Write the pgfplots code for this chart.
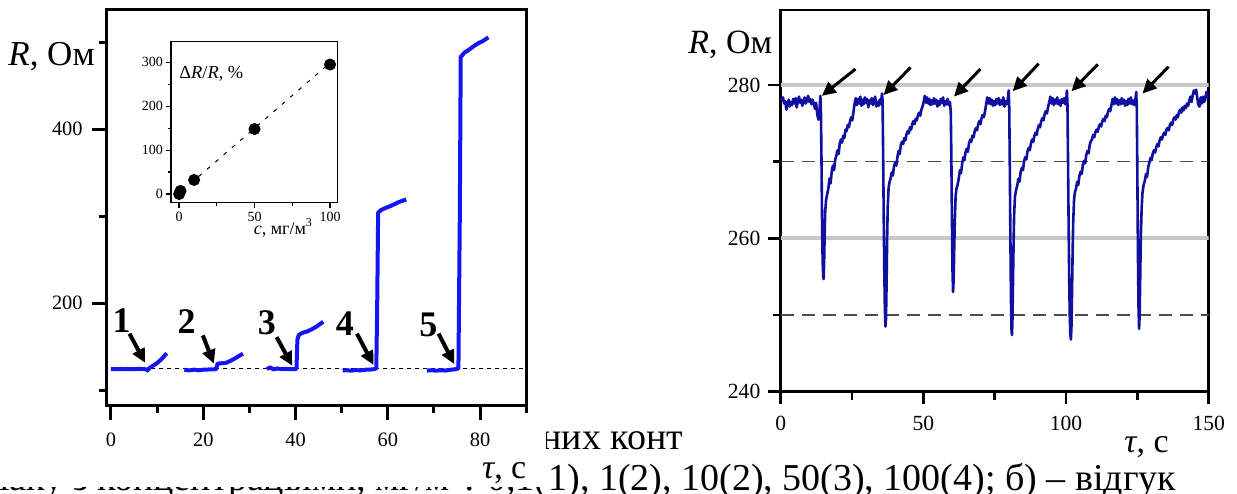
\documentclass[border=0pt]{standalone}
\usepackage{fontspec}
\setmainfont{Liberation Serif}
\usepackage{pgfplots}
\pgfplotsset{compat=1.18}
\usetikzlibrary{arrows.meta}

\definecolor{brightblue}{RGB}{20,20,245}
\definecolor{darkblue}{RGB}{16,16,160}

\pgfplotsset{
  panel/.style={
    scale only axis, anchor=south west,
    tick align=outside, tick pos=left,
    /pgf/number format/assume math mode=true,
    ticklabel style={inner sep=0pt},
    xticklabel style={anchor=center},
    yticklabel style={anchor=east},
  },
}
\tikzset{
  num/.style={font=\fontsize{18}{20}\selectfont\bfseries},
  arr/.style={line width=2pt, -{Triangle[length=7pt,width=6.5pt]}},
  arrb/.style={line width=1.5pt, -{Triangle[length=7pt,width=6.5pt]}},
  captext/.style={inner sep=0pt, font=\fontsize{19}{22}\selectfont},
}

\begin{document}
\begin{tikzpicture}
\path[use as bounding box] (0,0) rectangle (618.5pt,-246.5pt);

% caption text, partly hidden under the left picture
\begin{scope}
\clip (273pt,0pt) rectangle (618.5pt,-246.5pt)
      (0pt,-243.5pt) rectangle (273pt,-246.5pt);
\node[captext, anchor=base west] at (270.5pt,-224.5pt) {них конт};
\node[captext, anchor=base east] at (274pt,-245pt) {аміаку з концентраціями, мг/м\textsuperscript{3}: 0,1(};
\node[captext, anchor=base west] at (274pt,-245pt) {1), 1(2), 10(2), 50(3), 100(4); б) – відгук};
\end{scope}

% ---------------- left panel ----------------
\begin{axis}[panel,
  at={(53.35pt,-202.5pt)}, width=210pt, height=197.5pt,
  xmin=-0.93, xmax=90.1, ymin=83, ymax=537,
  axis line style={line width=1.5pt},
  xtick={0,20,40,60,80}, minor xtick={10,30,50,70,90},
  ytick={200,400}, minor ytick={100,300,500},
  major tick length=7.5pt, minor tick length=3.8pt,
  every tick/.style={black, line width=1.5pt},
  ticklabel style={font=\fontsize{10.2}{12}\selectfont},
  xticklabel shift=10pt, yticklabel shift=4.35pt,
]
\draw[black, line width=0.5pt, dash pattern=on 2pt off 2pt] (axis cs:0,124.5) -- (axis cs:90.1,124.5);
\addplot[brightblue, line width=2pt, line join=round] coordinates {
  (0,124.3) (1,124.1) (2,124.5) (3,124.2) (4,124.4) (5,124.1) (6,124.5) (7,124.3)
  (7.6,124.0) (7.9,122.6) (8.3,125.3) (9,127.8) (10,131.2) (11,136) (12.1,142.5)
};
\addplot[brightblue, line width=2pt, line join=round] coordinates {
  (15.9,123.4) (17,122.8) (18,123.6) (19,122.9) (20,123.6) (21,123.8) (22,124)
  (22.8,124.2) (23.1,130.5) (24,131) (25,131.6) (26,134) (27,137) (28.6,142)
};
\addplot[brightblue, line width=2pt, line join=round] coordinates {
  (33.8,124.4) (34.5,126.2) (35.2,124) (36,125) (37,124.2) (38,124.5) (39,124.1)
  (40.2,124.5) (40.4,158) (40.7,163.5) (41.5,166) (42.5,167.5) (43.5,170)
  (44.5,173) (45.3,176) (46,178.7)
};
\addplot[brightblue, line width=2pt, line join=round] coordinates {
  (50.2,122.6) (51,123.1) (52,122.4) (53,123.2) (54,122.7) (55,123.5) (56,123.6)
  (57,124.2) (57.5,125) (57.7,200) (57.9,304) (58.5,307) (59.5,309.5) (60.5,311.5)
  (61.5,314) (62.5,316.5) (63.3,318) (64,319)
};
\addplot[brightblue, line width=2pt, line join=round] coordinates {
  (68.5,122.6) (69.5,123) (70.5,122.4) (71.5,123) (72.5,122.6) (73.5,123.4)
  (74.5,124) (75.3,125) (75.6,300) (75.8,483) (76.6,488) (77.5,491) (78.5,495)
  (79.5,498.5) (80.5,501) (81.8,505.5)
};
\node[num] at (axis cs:2.3,180) {1};
\node[num] at (axis cs:16.4,179) {2};
\node[num] at (axis cs:33.8,177) {3};
\node[num] at (axis cs:50.7,177) {4};
\node[num] at (axis cs:68.8,175) {5};
\draw[arr] (axis cs:4.0,165) -- (axis cs:7.4,131.5);
\draw[arr] (axis cs:19.9,163) -- (axis cs:22.3,130.5);
\draw[arr] (axis cs:35.9,161) -- (axis cs:39.3,128);
\draw[arr] (axis cs:53.3,165) -- (axis cs:56.9,129);
\draw[arr] (axis cs:71.0,165) -- (axis cs:74.4,130);
\end{axis}
\node[anchor=base west, inner sep=0pt, font=\fontsize{17.5}{20}\selectfont] at (4pt,-32.5pt) {\textit{R}, Ом};
\node[anchor=base west, inner sep=0pt, font=\fontsize{17}{20}\selectfont] at (240.85pt,-239pt) {\textit{τ}, с};

% ---------------- inset ----------------
\begin{axis}[panel,
  at={(85.5pt,-101.35pt)}, width=83.15pt, height=80.5pt,
  xmin=-5.3, xmax=104.8, ymin=-19.8, ymax=347,
  axis line style={line width=0.6pt},
  xtick={0,50,100}, minor xtick={25,75},
  ytick={0,100,200,300}, minor ytick={50,150,250},
  major tick length=2.6pt, minor tick length=1.6pt,
  every tick/.style={black, line width=0.6pt},
  ticklabel style={font=\fontsize{7}{8}\selectfont},
  xticklabel shift=4.4pt, yticklabel shift=1.25pt,
  clip=false,
]
\addplot[black, line width=0.5pt, dash pattern=on 2pt off 3.5pt] coordinates {(2,7) (97,290)};
\addplot[only marks, mark=*, mark size=2.8pt, black] coordinates {
  (0.1,0) (1,7) (10,32) (50,148) (100,295)
};
\node[anchor=west, inner sep=0pt, font=\fontsize{9.2}{11}\selectfont] at (rel axis cs:0.048,0.80) {Δ\textit{R}/\textit{R}, \%};
\node[inner sep=0pt, font=\fontsize{9}{11}\selectfont, yshift=-12.7pt] at (rel axis cs:0.676,0) {\textit{c}, мг/м\textsuperscript{3}};
\end{axis}

% ---------------- right panel ----------------
\begin{axis}[panel,
  at={(390.35pt,-195.85pt)}, width=214pt, height=190.85pt,
  xmin=0, xmax=150, ymin=240, ymax=289.8,
  axis line style={line width=1.3pt},
  xtick={0,50,100,150}, minor xtick={25,75,125},
  ytick={240,260,280}, minor ytick={250,270},
  major tick length=6.3pt, minor tick length=4pt,
  every tick/.style={black, line width=1.3pt},
  ticklabel style={font=\fontsize{10.8}{12}\selectfont},
  xticklabel shift=9.5pt, yticklabel shift=3.7pt,
]
\draw[black!22, line width=2pt] (axis cs:0,260) -- (axis cs:150,260);
\draw[black!22, line width=2pt] (axis cs:0,280) -- (axis cs:150,280);
\draw[black!70, line width=0.6pt, dash pattern=on 6.5pt off 4pt] (axis cs:0,250) -- (axis cs:150,250);
\draw[black!70, line width=0.6pt, dash pattern=on 6.5pt off 4pt] (axis cs:0,270) -- (axis cs:150,270);
\addplot[darkblue, line width=1.3pt, line join=round] coordinates {
  (0,278.3) (0.4,278.0) (0.8,278.4) (1.2,277.6) (1.6,277.9) (2.0,276.8) (2.4,277.5)
  (2.8,278.1) (3.2,277.2) (3.6,277.8) (4.0,277.4) (4.4,278.2) (4.8,277.6) (5.2,278.3)
  (5.6,277.1) (6.0,277.9) (6.4,278.5) (6.8,277.7) (7.2,278.1) (7.6,277.3) (8.0,277.9)
  (8.4,278.4) (8.8,277.6) (9.2,278.0) (9.6,278.6) (10.0,277.8) (10.4,278.2) (10.8,277.5)
  (11.2,278.1) (11.6,277.6) (12.0,276.9) (12.4,277.7) (12.8,276.2) (13.2,275.5)
  (13.6,276.8) (13.9,278.6)
  (14.1,276.5) (14.3,270) (14.5,262) (14.7,257) (14.9,255) (15.05,254.7) (15.2,256.5)
  (15.4,260.5) (15.6,263.5) (15.9,265) (16.3,265.8) (16.7,266.5) (17.1,267.8)
  (17.5,267.2) (17.9,268.8) (18.3,269.5) (18.7,268.9) (19.1,270.3) (19.5,270.8)
  (19.9,271.5) (20.3,271) (20.7,272.4) (21.1,272.9) (21.5,272.5) (21.9,273.4)
  (22.3,273.1) (22.7,274.2) (23.1,274) (23.5,274.8) (23.9,274.5) (24.3,275.3)
  (24.7,275.8) (25.1,275.4) (25.5,276.5) (25.9,277.6) (26.3,278.3) (26.7,277.4)
  (27.1,278.2) (27.5,277.6) (27.9,278.5) (28.3,277.3) (28.7,278.1) (29.1,277.5)
  (29.5,278.4) (29.9,277.7) (30.3,278.2) (30.7,277.1) (31.1,278.0) (31.5,277.6)
  (31.9,278.3) (32.3,277.4) (32.7,277.9) (33.1,278.5) (33.5,277.2) (33.9,277.8)
  (34.3,277.3) (34.7,278.1) (35.1,277.5) (35.5,278.9)
  (35.7,278) (35.9,271) (36.1,263) (36.3,256) (36.5,251) (36.7,248.5) (36.9,249.5)
  (37.1,254) (37.3,260) (37.5,264) (37.8,266.5) (38.1,267.3) (38.5,267.8) (38.9,268.6)
  (39.3,268.2) (39.7,269.4) (40.1,269.9) (40.5,269.5) (40.9,270.6) (41.3,271.4)
  (41.7,271) (42.1,272.2) (42.5,272.6) (42.9,272.3) (43.3,273.1) (43.7,272.8)
  (44.1,273.6) (44.5,274) (44.9,273.7) (45.3,274.5) (45.7,274.2) (46.1,274.9)
  (46.5,275.3) (46.9,274.9) (47.3,275.6) (47.7,275.4) (48.1,276.1) (48.5,276.4)
  (48.9,276) (49.3,276.8) (49.7,277.2) (50.1,277.8) (50.5,278.6) (50.9,277.7)
  (51.3,278.4) (51.7,277.6) (52.1,278.2) (52.5,277.4) (52.9,278.0) (53.3,277.5)
  (53.7,278.3) (54.1,277.6) (54.5,278.1) (54.9,277.2) (55.3,277.9) (55.7,277.4)
  (56.1,278.2) (56.5,277.7) (56.9,278.4) (57.3,277.3) (57.7,277.9) (58.1,277.5)
  (58.5,278.2) (58.9,277.4) (59.3,277.8)
  (59.6,276.5) (59.8,271) (60.0,263) (60.2,256) (60.4,253) (60.6,254.5) (60.8,258.5)
  (61.0,262) (61.3,265.5) (61.6,266.5) (62.0,267) (62.4,267.8) (62.8,268.9)
  (63.2,268.5) (63.6,269.8) (64.0,270.6) (64.4,270.2) (64.8,271.3) (65.2,271.7)
  (65.6,271.3) (66.0,272.4) (66.4,272.9) (66.8,272.6) (67.2,273.4) (67.6,273.2)
  (68.0,274) (68.4,274.4) (68.8,274.1) (69.2,274.9) (69.6,275.3) (70.0,274.9)
  (70.4,275.7) (70.8,276.1) (71.2,275.8) (71.6,276.6) (72.0,277.5) (72.4,278.4)
  (72.8,277.6) (73.2,278.3) (73.6,277.5) (74.0,278.1) (74.4,277.3) (74.8,277.9)
  (75.2,277.4) (75.6,278.2) (76.0,277.6) (76.4,278.3) (76.8,277.4) (77.2,278.0)
  (77.6,277.5) (78.0,278.4) (78.4,277.2) (78.8,277.9) (79.2,277.5) (79.6,278.2)
  (79.9,279.3)
  (80.1,277) (80.3,269) (80.5,260) (80.7,252) (80.9,248) (81.05,247.4) (81.2,249)
  (81.4,254) (81.6,259) (81.8,263) (82.1,265.5) (82.5,266.3) (82.9,266.9) (83.3,267.8)
  (83.7,267.4) (84.1,268.7) (84.5,269.2) (84.9,268.9) (85.3,270.1) (85.7,270.6)
  (86.1,270.3) (86.5,271.4) (86.9,271.8) (87.3,271.5) (87.7,272.4) (88.1,272.9)
  (88.5,272.6) (88.9,273.4) (89.3,273.8) (89.7,273.5) (90.1,274.3) (90.5,274.8)
  (90.9,274.5) (91.3,275.3) (91.7,275.7) (92.1,275.4) (92.5,276.2) (92.9,276.6)
  (93.3,276.3) (93.7,277.1) (94.1,277.8) (94.5,278.5) (94.9,277.6) (95.3,278.3)
  (95.7,277.4) (96.1,278.1) (96.5,277.6) (96.9,278.4) (97.3,277.5) (97.7,278.0)
  (98.1,277.3) (98.5,278.2) (98.9,277.7) (99.3,278.3) (99.7,277.5) (100.1,278.1)
  (100.3,279.3)
  (100.5,277.5) (100.7,270) (100.9,262) (101.1,255) (101.3,250) (101.5,247.5)
  (101.7,246.8) (101.9,248.5) (102.1,253) (102.3,258) (102.5,262) (102.8,265)
  (103.1,266) (103.5,266.5) (103.9,267.4) (104.3,267) (104.7,268.2) (105.1,268.7)
  (105.5,268.4) (105.9,269.6) (106.3,270.1) (106.7,269.8) (107.1,270.9) (107.5,271.4)
  (107.9,271.1) (108.3,272.2) (108.7,272.7) (109.1,272.9) (109.5,273.5) (109.9,273.2)
  (110.3,273.9) (110.7,274.2) (111.1,273.9) (111.5,274.6) (111.9,274.9) (112.3,274.6)
  (112.7,275.3) (113.1,275.6) (113.5,275.3) (113.9,276) (114.3,275.8) (114.7,276.5)
  (115.1,276.9) (115.5,276.6) (115.9,277.4) (116.3,278.2) (116.7,277.5) (117.1,278.4)
  (117.5,277.6) (117.9,278.2) (118.3,277.4) (118.7,278.0) (119.1,277.5) (119.5,278.3)
  (119.9,277.6) (120.3,278.1) (120.7,277.3) (121.1,277.9) (121.5,277.4) (121.9,278.2)
  (122.3,277.6) (122.7,278.4) (123.1,277.5) (123.5,278.0) (123.9,277.4) (124.3,278.1)
  (124.6,279.1)
  (124.8,277) (125.0,268) (125.2,258) (125.4,251) (125.6,248.2) (125.8,250) (126.0,255)
  (126.2,260) (126.5,264) (126.8,266) (127.2,267) (127.6,267.5) (128.0,268.4)
  (128.4,268) (128.8,269.3) (129.2,269.9) (129.6,270.5) (130.0,270.2) (130.4,271.1)
  (130.8,271.5) (131.2,271.2) (131.6,271.9) (132.0,272.3) (132.4,272) (132.8,272.8)
  (133.2,273.2) (133.6,272.9) (134.0,273.5) (134.4,273.8) (134.8,273.5) (135.2,274.2)
  (135.6,274.4) (136.0,274.1) (136.4,274.8) (136.8,275.1) (137.2,274.8) (137.6,275.5)
  (138.0,275.8) (138.4,275.5) (138.8,276.1) (139.2,275.8) (139.6,276.5) (140.0,276.8)
  (140.4,276.4) (140.8,277.1) (141.2,276.7) (141.6,277.3) (142.0,277) (142.4,277.6)
  (142.8,277.3) (143.2,278) (143.6,278.5) (144.0,277.8) (144.4,278.7) (144.8,279.3)
  (145.2,278.9) (145.6,279.4) (146.0,278.3) (146.4,277.4) (146.8,277.2) (147.2,278.4)
  (147.6,277.6) (148.0,278.5) (148.4,277.8) (148.8,278.2) (149.2,279.1) (149.6,278.4)
  (150,279)
};
\draw[arrb] (axis cs:26.2,282.1) -- (axis cs:14.4,278.6);
\draw[arrb] (axis cs:45.5,282.3) -- (axis cs:36.0,278.7);
\draw[arrb] (axis cs:70.0,282.1) -- (axis cs:60.7,278.5);
\draw[arrb] (axis cs:90.4,282.8) -- (axis cs:81.3,279.2);
\draw[arrb] (axis cs:111.1,282.7) -- (axis cs:101.9,279.2);
\draw[arrb] (axis cs:135.9,282.4) -- (axis cs:126.8,278.9);
\end{axis}
\node[anchor=base west, inner sep=0pt, font=\fontsize{17}{20}\selectfont] at (344pt,-26.65pt) {\textit{R}, Ом};
\node[anchor=base west, inner sep=0pt, font=\fontsize{17}{20}\selectfont] at (562pt,-226pt) {\textit{τ}, с};
\end{tikzpicture}
\end{document}
